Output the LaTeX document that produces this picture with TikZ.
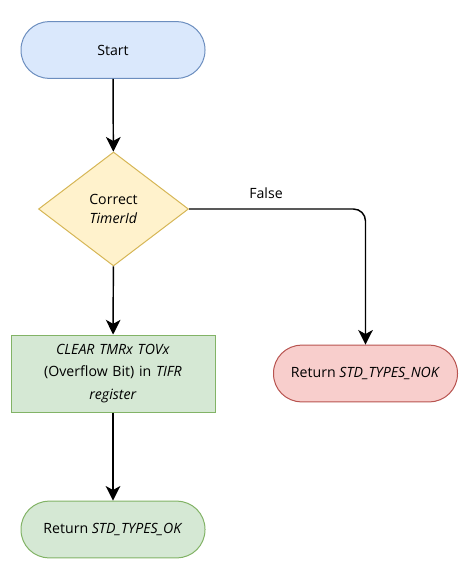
\documentclass[tikz,border=0pt]{standalone}
\usepackage{fontspec}
\setmainfont{Open Sans}
\usetikzlibrary{shapes.geometric,arrows.meta}
\definecolor{bluefill}{HTML}{DAE8FC}\definecolor{bluedraw}{HTML}{6C8EBF}
\definecolor{yelfill}{HTML}{FFF2CC}\definecolor{yeldraw}{HTML}{D6B656}
\definecolor{grnfill}{HTML}{D5E8D4}\definecolor{grndraw}{HTML}{82B366}
\definecolor{redfill}{HTML}{F8CECC}\definecolor{reddraw}{HTML}{B85450}
\tikzset{
  term/.style={draw, line width=0.75pt, rectangle, rounded corners=21pt, minimum width=138pt, minimum height=42.5pt, inner sep=0pt, font=\fontsize{10.6}{13}\selectfont},
  decide/.style={draw=yeldraw, fill=yelfill, line width=0.75pt, diamond, minimum width=112.5pt, minimum height=85.5pt, inner sep=0pt, aspect=1.3, font=\fontsize{10.6}{14.3}\selectfont, align=center},
  proc/.style={draw=grndraw, fill=grnfill, line width=0.75pt, rectangle, minimum width=153pt, minimum height=57.75pt, inner sep=0pt, text width=150pt, align=center, font=\fontsize{10.6}{17}\selectfont},
  conn/.style={line width=1.1pt, -{Stealth[length=11pt,width=11pt,inset=3pt]}},
}
\begin{document}
\begin{tikzpicture}[x=0.75pt,y=-0.75pt]
\useasboundingbox (0,0) rectangle (462,561);
\node[term, draw=bluedraw, fill=bluefill] (start) at (113,50) {Start};
\node[decide] (dec) at (113.5,209) {Correct\\\textit{TimerId}};
\node[proc] (clr) at (113,373.5) {\textit{CLEAR TMRx TOVx}\\(Overflow Bit) in \textit{TIFR}\\\textit{register}};
\node[term, draw=grndraw, fill=grnfill] (ok) at (113,529.5) {Return \textit{STD\_TYPES\_OK}};
\node[term, draw=reddraw, fill=redfill] (nok) at (365.5,373.5) {Return \textit{STD\_TYPES\_NOK}};
\draw[conn] (start) -- (dec);
\draw[conn] (dec) -- (clr);
\draw[conn] (clr) -- (ok);
\draw[conn, rounded corners=9pt] (dec.east) -| (nok.north);
\node[font=\fontsize{10.6}{13}\selectfont] (lbl) at (266,193) {False};
\end{tikzpicture}
\end{document}
